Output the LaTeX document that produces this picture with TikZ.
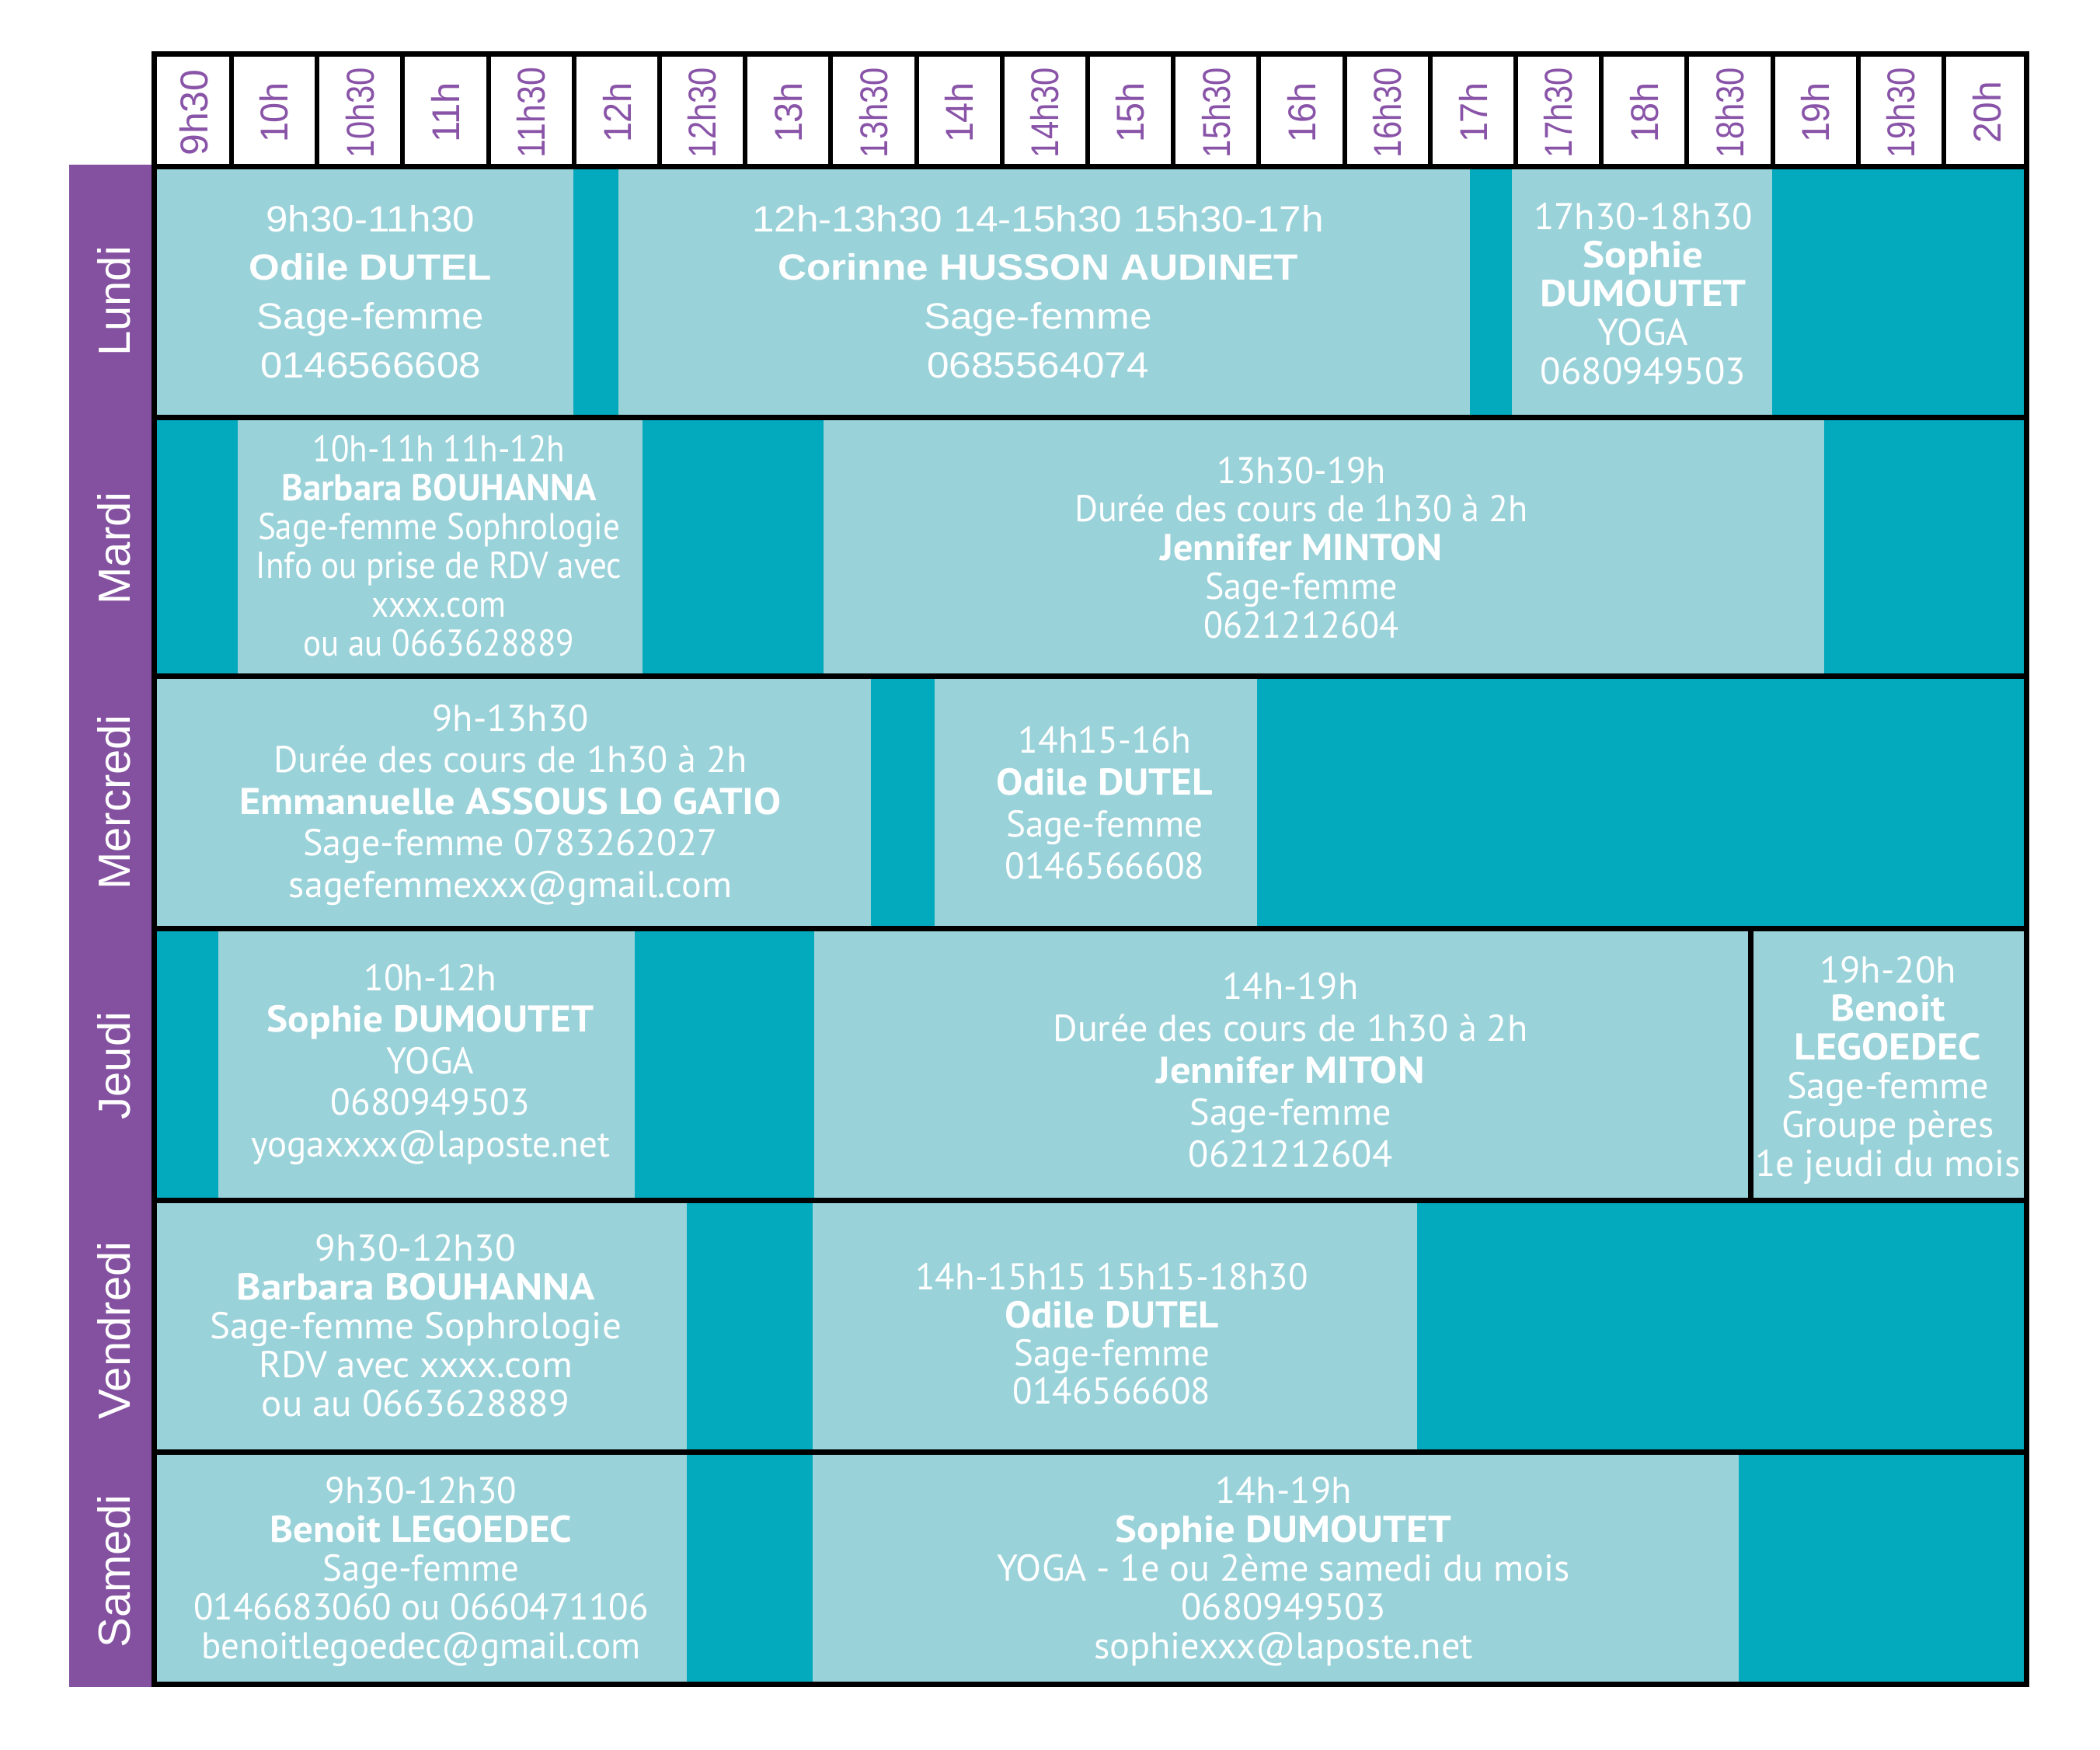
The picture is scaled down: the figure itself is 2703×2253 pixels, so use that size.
\documentclass[tikz,border=0pt]{standalone}
\usepackage{fontspec}
\usepackage{graphicx}
\setmainfont{PT Sans}
\newfontfamily\arialf{Liberation Sans}
\definecolor{lightb}{RGB}{154,210,217}
\definecolor{darkb}{RGB}{3,169,189}
\definecolor{purp}{RGB}{132,81,160}
\definecolor{purptext}{RGB}{137,84,168}
\newlength\reflen
\newcommand\setsx[3]{\settowidth\reflen{#2}\pgfmathsetmacro#1{#3/\reflen}\global\let#1#1}
\newcommand\fsM{\fontsize{48}{48}\selectfont}
\newcommand\fsA{\arialf\fontsize{47}{47}\selectfont}
\newcommand\bx[1]{{\bfseries\scalebox{1.09}[1]{#1}}}
\newcommand\cellbox[7]{%
  \foreach [count=\i] \t in {#7} {
    \node[cell, font=#2, name=#1-\i] at (#3, {#4+(\i-1)*#5}) {\scalebox{#6}[1]{\t}};
  }
}
\tikzset{
  cell/.style={text=white, inner sep=0pt, anchor=base},
  hlabel/.style={rotate=90, text=purptext, inner sep=0pt, anchor=center, font=\arialf\fontsize{50}{50}\selectfont},
  daylabel/.style={rotate=90, text=white, inner sep=0pt, anchor=center, font=\arialf\fontsize{58}{58}\selectfont},
  gridline/.style={line width=7pt, draw=black},
  headline/.style={line width=6pt, draw=black},
}
\begin{document}
\setsx\sxLa{\fsA 0146566608}{284}%
\setsx\sxLb{\fsA 12h-13h30 14-15h30 15h30-17h}{736}%
\setsx\sxLc{\fsM 17h30-18h30}{282}%
\setsx\sxMa{\fsM Sage-femme Sophrologie}{466}%
\setsx\sxMb{\fsM Durée des cours de 1h30 à 2h}{584}%
\setsx\sxWa{\fsM Durée des cours de 1h30 à 2h}{610}%
\setsx\sxWb{\fsM 0146566608}{257}%
\setsx\sxJa{\fsM yogaxxxx@laposte.net}{462}%
\setsx\sxJb{\fsM Durée des cours de 1h30 à 2h}{611}%
\setsx\sxJc{\fsM 1e jeudi du mois}{342}%
\setsx\sxVa{\fsM Sage-femme Sophrologie}{530}%
\setsx\sxVb{\fsM 14h-15h15 15h15-18h30}{505}%
\setsx\sxSa{\fsM 0146683060 ou 0660471106}{586}%
\setsx\sxSb{\fsM YOGA - 1e ou 2ème samedi du mois}{738}%
\begin{tikzpicture}[x=1pt,y=-1pt]
\useasboundingbox (0,0) rectangle (2703,2253);
\fill[white] (0,0) rectangle (2703,2253);
% purple band
\fill[purp] (89,212) rectangle (199,2172);
% dark background of rows
\fill[darkb] (198,215) rectangle (2608,2168);
% light blocks
\fill[lightb] (198,215) rectangle (738,537);
\fill[lightb] (796,215) rectangle (1892,537);
\fill[lightb] (1946,215) rectangle (2281,537);
\fill[lightb] (306,537) rectangle (827,870);
\fill[lightb] (1060,537) rectangle (2348,870);
\fill[lightb] (198,870) rectangle (1121,1195);
\fill[lightb] (1203,870) rectangle (1618,1195);
\fill[lightb] (281,1195) rectangle (817,1545);
\fill[lightb] (1048,1195) rectangle (2608,1545);
\fill[lightb] (198,1545) rectangle (884,1869);
\fill[lightb] (1046,1545) rectangle (1824,1869);
\fill[lightb] (198,1869) rectangle (884,2168);
\fill[lightb] (1046,1869) rectangle (2238,2168);
% header
\fill[white] (198,70) rectangle (2608,215);
\foreach \k in {1,...,21} {
  \draw[headline] ({298+110.2*(\k-1)},70) -- ({298+110.2*(\k-1)},215);
}
% grid lines
\foreach \yy in {215,537,870,1195,1545,1869} {
  \draw[gridline] (198,\yy) -- (2608,\yy);
}
\draw[gridline] (2253,1195) -- (2253,1545);
\draw[gridline] (198,70) rectangle (2608,2168);
% header labels
\foreach [count=\k from 0] \t/\w in {9h30/111,10h/78,10h30/116,11h/78,11h30/116,12h/78,12h30/116,13h/78,13h30/116,14h/78,14h30/116,15h/78,15h30/116,16h/78,16h30/116,17h/78,17h30/116,18h/78,18h30/116,19h/78,19h30/116,20h/80} {
  \pgfmathsetmacro\hx{\k==0 ? 250 : 298+110.2*(\k-0.5)}
  \node[hlabel, name=h\k] at (\hx,145) {\resizebox{\w pt}{\height}{\t}};
}
% day labels
\node[daylabel, name=lundi] at (147,388) {Lundi};
\node[daylabel, name=mardi] at (147,706) {Mardi};
\node[daylabel, name=mercredi] at (147,1033) {Mercredi};
\node[daylabel, name=jeudi] at (147,1372) {Jeudi};
\node[daylabel, name=vendredi] at (147,1713) {Vendredi};
\node[daylabel, name=samedi] at (147,2023) {Samedi};
% Lundi
\cellbox{lunA}{\fsA}{477}{298}{62.7}{\sxLa}{9h30-11h30,{\bfseries Odile DUTEL},Sage-femme,0146566608}
\cellbox{lunB}{\fsA}{1336}{298}{62.7}{\sxLb}{12h-13h30 14-15h30 15h30-17h,{\bfseries Corinne HUSSON AUDINET},Sage-femme,0685564074}
\cellbox{lunC}{\fsM}{2115}{295}{49.8}{\sxLc}{17h30-18h30,\bx{Sophie},\bx{DUMOUTET},YOGA,0680949503}
% Mardi
\cellbox{marA}{\fsM}{565}{594}{50}{\sxMa}{10h-11h 11h-12h,\bx{Barbara BOUHANNA},Sage-femme Sophrologie,Info ou prise de RDV avec,xxxx.com,ou au 0663628889}
\cellbox{marB}{\fsM}{1675}{622}{49.8}{\sxMb}{13h30-19h,Durée des cours de 1h30 à 2h,\bx{Jennifer MINTON},Sage-femme,0621212604}
% Mercredi
\cellbox{merA}{\fsM}{657}{941}{53.5}{\sxWa}{9h-13h30,Durée des cours de 1h30 à 2h,\bx{Emmanuelle ASSOUS LO GATIO},Sage-femme 0783262027,sagefemmexxx@gmail.com}
\cellbox{merB}{\fsM}{1422}{969}{54.3}{\sxWb}{14h15-16h,\bx{Odile DUTEL},Sage-femme,0146566608}
% Jeudi
\cellbox{jeuA}{\fsM}{554}{1275}{53.5}{\sxJa}{10h-12h,\bx{Sophie DUMOUTET},YOGA,0680949503,yogaxxxx@laposte.net}
\cellbox{jeuB}{\fsM}{1661}{1286}{54}{\sxJb}{14h-19h,Durée des cours de 1h30 à 2h,\bx{Jennifer MITON},Sage-femme,0621212604}
\cellbox{jeuC}{\fsM}{2430}{1265}{49.8}{\sxJc}{19h-20h,\bx{Benoit},\bx{LEGOEDEC},Sage-femme,Groupe pères,1e jeudi du mois}
% Vendredi
\cellbox{venA}{\fsM}{535}{1623}{50}{\sxVa}{9h30-12h30,\bx{Barbara BOUHANNA},Sage-femme Sophrologie,RDV avec xxxx.com,ou au 0663628889}
\cellbox{venB}{\fsM}{1431}{1660}{49.3}{\sxVb}{14h-15h15 15h15-18h30,\bx{Odile DUTEL},Sage-femme,0146566608}
% Samedi
\cellbox{samA}{\fsM}{542}{1935}{50}{\sxSa}{9h30-12h30,\bx{Benoit LEGOEDEC},Sage-femme,0146683060 ou 0660471106,benoitlegoedec@gmail.com}
\cellbox{samB}{\fsM}{1652}{1935}{50}{\sxSb}{14h-19h,\bx{Sophie DUMOUTET},YOGA - 1e ou 2ème samedi du mois,0680949503,sophiexxx@laposte.net}
\end{tikzpicture}
\end{document}
